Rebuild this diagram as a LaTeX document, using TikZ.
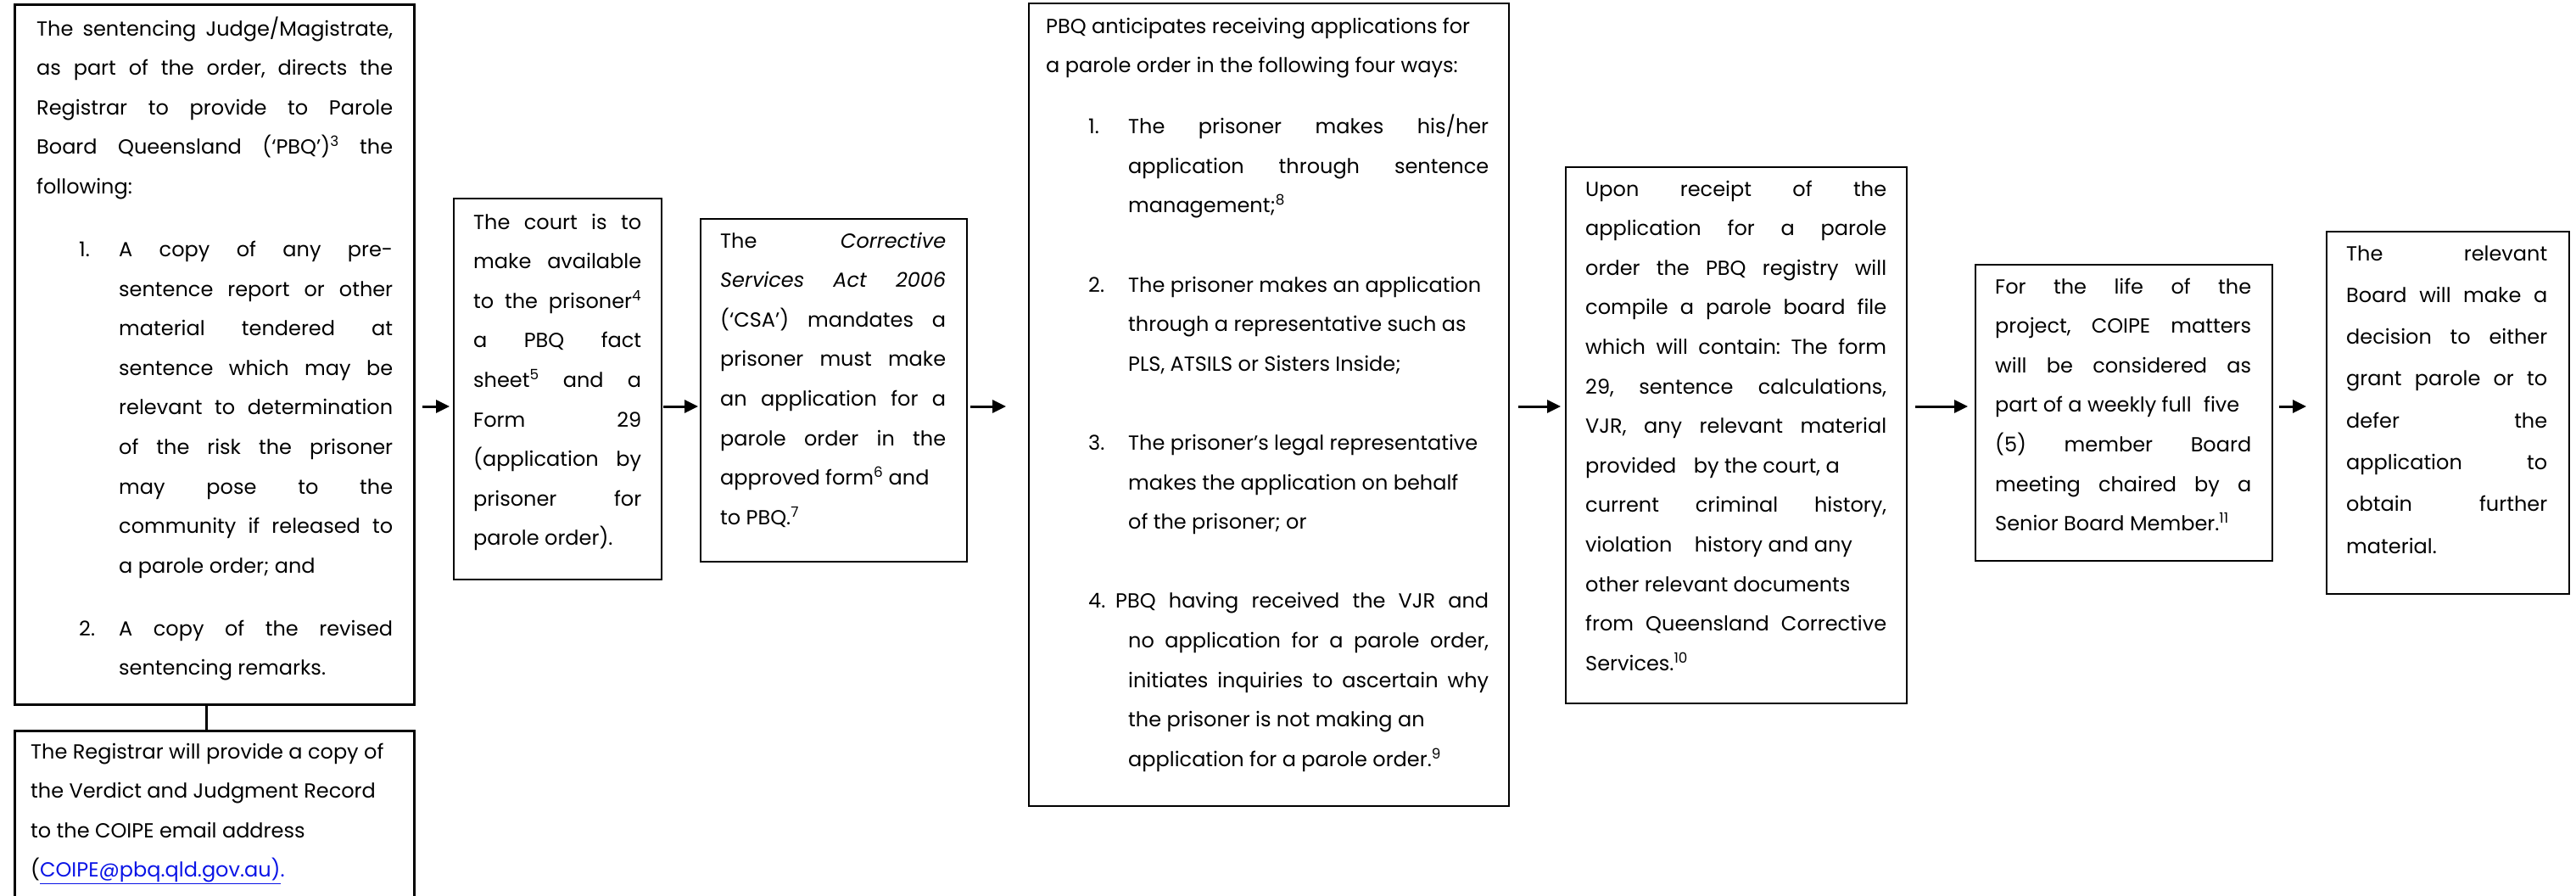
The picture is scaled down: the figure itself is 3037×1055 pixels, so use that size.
\documentclass[tikz,border=0pt]{standalone}
\usepackage{fontspec}
\setmainfont{Poppins}
\usepackage{xcolor}
\usetikzlibrary{arrows.meta}
\definecolor{linkblue}{RGB}{10,20,230}
\hyphenpenalty=10000
\exhyphenpenalty=10000
\tolerance=10000
\frenchspacing
% numbered entry with hanging indent
\newcommand{\listentry}[2][47pt]{\par\leftskip=50pt\hangindent=47pt\hangafter=1\noindent\makebox[#1][l]{#2}\ignorespaces}

\tikzset{
  box/.style={draw, line width=2pt, inner sep=0pt, anchor=north west},
  txt/.style={inner sep=0pt, anchor=base west, align=justify, font=\fontsize{24}{46.6}\selectfont},
  arr/.style={line width=3pt, -{Triangle[length=16pt,width=15pt]}}
}

\begin{document}
\begin{tikzpicture}[x=1pt,y=1pt]
                \useasboundingbox (0,0) rectangle (3037,-1055);
                \coordinate (ay) at (0,-479);
                % boxes
                \node[box, line width=3pt, minimum width=471pt, minimum height=825pt] (judge) at (16,-4) {};
                \node[box, line width=3pt, minimum width=471pt, minimum height=215pt] (reg) at (16,-860) {};
                \node[box, minimum width=245pt, minimum height=449pt] (court) at (534,-233) {};
                \node[box, minimum width=314pt, minimum height=404pt] (csa) at (825,-257) {};
                \node[box, minimum width=566pt, minimum height=946pt] (pbq) at (1212,-3) {};
                \node[box, minimum width=402pt, minimum height=632pt] (receipt) at (1845,-196) {};
                \node[box, minimum width=350pt, minimum height=349pt] (coipe) at (2328,-311) {};
                \node[box, minimum width=286pt, minimum height=427pt] (board) at (2742,-272) {};
                % texts
                \node[txt, text width=420pt] (judgetxt) at (43,-42) {The sentencing Judge/Magistrate,\linebreak as part of the order, directs the\linebreak Registrar to provide to Parole\linebreak Board Queensland (`PBQ')\textsuperscript{3} the\linebreak following:\par\vspace{27.4pt}
                  \listentry{1.}A copy of any pre-\linebreak sentence report or other\linebreak material tendered at\linebreak sentence which may be\linebreak relevant to determination\linebreak of the risk the prisoner\linebreak may pose to the\linebreak community if released to\linebreak a parole order; and\par\vspace{27.4pt}
                  \listentry{2.}A copy of the revised\linebreak sentencing remarks.\par};
                \node[txt, text width=460pt] (regtxt) at (36,-894) {The Registrar will provide a copy of\newline the Verdict and Judgment Record\newline to the COIPE email address\newline (\textcolor{linkblue}{\underline{COIPE@pbq.qld.gov.au)}.}};
                \node[txt, text width=198pt] (courttxt) at (558,-270) {The court is to\linebreak make available\linebreak to the prisoner\textsuperscript{4}\linebreak a PBQ fact\linebreak sheet\textsuperscript{5} and a\linebreak Form 29\linebreak (application by\linebreak prisoner for\linebreak parole order).};
                \node[txt, text width=266pt] (csatxt) at (849,-292) {The \textit{Corrective}\linebreak \textit{Services Act 2006}\linebreak (`CSA') mandates a\linebreak prisoner must make\linebreak an application for a\linebreak parole order in the\linebreak approved form\textsuperscript{6} and\newline to PBQ.\textsuperscript{7}};
                \node[txt, text width=522pt] (pbqtxt) at (1233,-39) {PBQ anticipates receiving applications for\newline a parole order in the following four ways:\par\vspace{25.4pt}
                  \listentry{1.}The prisoner makes his/her\linebreak application through sentence\linebreak management;\textsuperscript{8}\par\vspace{46.6pt}
                  \listentry{2.}The prisoner makes an application\newline through a representative such as\newline PLS, ATSILS or Sisters Inside;\par\vspace{46.6pt}
                  \listentry{3.}The prisoner's legal representative\newline makes the application on behalf\newline of the prisoner; or\par\vspace{46.6pt}
                  \listentry[32pt]{4.}PBQ having received the VJR and\linebreak no application for a parole order,\linebreak initiates inquiries to ascertain why\linebreak the prisoner is not making an\newline application for a parole order.\textsuperscript{9}\par};
                \node[txt, text width=355pt] (receipttxt) at (1869,-231) {Upon receipt of the\linebreak application for a parole\linebreak order the PBQ registry will\linebreak compile a parole board file\linebreak which will contain: The form\linebreak 29, sentence calculations,\linebreak VJR, any relevant material\linebreak provided\hspace{14pt} by the court, a\newline current criminal history,\linebreak violation\hspace{20pt} history and any\newline other relevant documents\newline from Queensland Corrective\linebreak Services.\textsuperscript{10}};
                \node[txt, text width=302pt] (coipetxt) at (2352,-346) {For the life of the\linebreak project, COIPE matters\linebreak will be considered as\linebreak part of a weekly full\hspace{8pt} five\newline (5) member Board\linebreak meeting chaired by a\linebreak Senior Board Member.\textsuperscript{11}};
                \node[txt, text width=237pt, font=\fontsize{24}{49.3}\selectfont] (boardtxt) at (2766,-307) {The relevant\linebreak Board will make a\linebreak decision to either\linebreak grant parole or to\linebreak defer the\linebreak application to\linebreak obtain further\linebreak material.};
                % connectors
                \draw[line width=3pt] ([xshift=-9.5pt]judge.south) -- ([xshift=-9.5pt]reg.north);
                \draw[arr, shorten <=8pt, shorten >=4pt] (judge.east |- ay) -- (court.west |- ay);
                \draw[arr, shorten <=1pt, shorten >=2pt] (court.east |- ay) -- (csa.west |- ay);
                \draw[arr, shorten <=3pt, shorten >=26pt] (csa.east |- ay) -- (pbq.west |- ay);
                \draw[arr, shorten <=10pt, shorten >=5pt] (pbq.east |- ay) -- (receipt.west |- ay);
                \draw[arr, shorten <=9pt, shorten >=8pt] (receipt.east |- ay) -- (coipe.west |- ay);
                \draw[arr, shorten <=7pt, shorten >=23pt] (coipe.east |- ay) -- (board.west |- ay);
            \end{tikzpicture}
\end{document}
